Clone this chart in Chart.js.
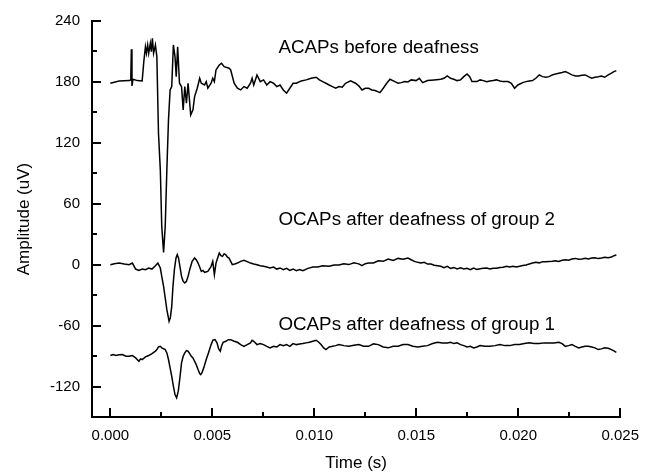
<!DOCTYPE html>
<html>
<head>
<meta charset="utf-8">
<script src="https://cdn.jsdelivr.net/npm/chart.js@4"></script>
<style>
  html, body { margin: 0; padding: 0; background: #fff; }
  #c { display: block; }
</style>
</head>
<body>
<canvas id="c" width="649" height="472"></canvas>
<script>
// ---- Data ----
const acapT = [0, .00043, .00092, .00100, .00103, .00106, .00111, .00132, .00156, .00164, .00172, .00177, .00183, .00188, .00196, .00201, .00206, .00212, .00221, .00228, .00236, .00245, .00252, .00261, .00269, .00277, .00285, .00293, .00301, .00309, .00317, .00323, .00330, .00339, .00349, .00357, .00365, .00373, .00381, .00394, .00405, .00413, .00426, .00438, .00446, .00462, .00470, .00478, .00494, .00502, .00510, .00518, .00534, .00545, .00558, .00582, .00590, .00607, .00623, .00639, .00655, .00671, .00687, .00695, .00703, .00719, .00735, .00751, .00767, .00783, .00800, .00816, .00832, .00848, .00864, .00880, .00896, .00912, .00936, .00960, .00985, .01009, .01025, .01041, .01057, .01073, .01089, .01105, .01121, .01137, .01153, .01178, .01202, .01218, .01234, .01250, .01266, .01282, .01298, .01322, .01338, .01355, .01371, .01395, .01411, .01427, .01443, .01459, .01475, .01499, .01515, .01531, .01555, .01588, .01620, .01636, .01652, .01668, .01684, .01700, .01717, .01733, .01749, .01762, .01773, .01797, .01813, .01829, .01845, .01861, .01877, .01893, .01910, .01926, .01950, .01966, .01982, .01998, .02022, .02038, .02054, .02070, .02086, .02103, .02119, .02135, .02151, .02167, .02183, .02199, .02215, .02231, .02247, .02263, .02280, .02296, .02312, .02328, .02344, .02360, .02376, .02392, .02408, .02424, .02441, .02457, .02469, .02481];
const acapV = [178.7, 181.0, 181.3, 182, 212.2, 176.1, 182.6, 181.3, 181.0, 200, 214.7, 208.2, 216.4, 208.2, 218, 209.8, 223, 208.2, 216.4, 204.9, 129.5, 93.4, 37.7, 12.1, 37.7, 93.4, 142.6, 172.1, 175.4, 216.4, 204.9, 185.2, 214.7, 178.7, 175.4, 152.5, 175.4, 159, 178.7, 147.5, 152.5, 165.5, 173.8, 183.6, 178.7, 177, 180.3, 173.8, 178.7, 183.6, 180.3, 191.8, 196.7, 198.4, 195.1, 193.5, 191.8, 178.7, 173.8, 172.1, 175.4, 173.8, 178.7, 183.6, 177, 186.9, 180.3, 182, 177, 180.3, 178.7, 175.4, 177, 172.1, 168.9, 173.8, 178.7, 178.7, 181, 182, 183.6, 184.6, 182, 180.3, 178.7, 177, 175.4, 173.8, 175.4, 174.8, 178.7, 181, 178.7, 176.1, 172.1, 173.8, 173.8, 172.1, 171.5, 169.5, 173.8, 178.7, 182.6, 180.3, 178.7, 179.3, 180.3, 180, 182, 181.3, 183.6, 179.3, 181.3, 182, 182.6, 183.6, 185.9, 183.6, 182.6, 181.3, 182, 185.2, 187.9, 185.2, 180.3, 180.3, 182, 181.3, 180.3, 181, 181.3, 182, 181, 180.3, 180.3, 178.7, 173.8, 177, 179.3, 180.3, 181, 181.3, 183.6, 186.9, 185.2, 184.6, 185.2, 186.9, 187.9, 188.6, 189.2, 190.2, 188.6, 186.9, 185.9, 185.9, 186.6, 186.9, 185.2, 183.6, 184.6, 185.2, 185.9, 184.6, 186.9, 188.6, 190.2, 191.1];

const g2T = [0, .00019, .00043, .00068, .00092, .00108, .00124, .00140, .00156, .00172, .00188, .00204, .00221, .00233, .00245, .00252, .00261, .00269, .00277, .00288, .00294, .00301, .00307, .00314, .00322, .00328, .00334, .00341, .00349, .00357, .00365, .00373, .00381, .00389, .00401, .00413, .00421, .00430, .00438, .00446, .00454, .00462, .00478, .00494, .00502, .00507, .00510, .00518, .00526, .00534, .00542, .00550, .00558, .00566, .00574, .00582, .00590, .00598, .00610, .00623, .00639, .00655, .00671, .00687, .00703, .00719, .00735, .00751, .00767, .00783, .00800, .00816, .00832, .00848, .00864, .00880, .00896, .00912, .00928, .00944, .00969, .00993, .01017, .01041, .01073, .01097, .01121, .01145, .01169, .01194, .01218, .01234, .01250, .01266, .01290, .01314, .01338, .01362, .01387, .01411, .01435, .01459, .01475, .01491, .01507, .01523, .01539, .01555, .01572, .01588, .01604, .01620, .01636, .01652, .01668, .01684, .01700, .01717, .01733, .01749, .01765, .01781, .01797, .01813, .01829, .01845, .01861, .01877, .01893, .01910, .01926, .01942, .01958, .01974, .01990, .02006, .02022, .02038, .02054, .02070, .02086, .02103, .02119, .02135, .02151, .02167, .02183, .02199, .02215, .02231, .02247, .02263, .02280, .02296, .02312, .02328, .02344, .02360, .02376, .02392, .02408, .02424, .02441, .02457, .02469, .02481];
const g2V = [0, 1, 1.6, 0.7, 0, 1.6, -4.3, -5.6, -4.3, -4.9, -3.3, -4.3, -1, 1.6, -3.3, -11.5, -21.3, -32.8, -44.3, -55.8, -52.4, -41, -21.3, -4.9, 6.6, 9.8, 6.6, -1.6, -11.5, -16.4, -18, -16.4, -11.5, -4.9, 3.3, 6.6, 4.9, 1.6, -2.3, -6.6, -5.6, -7.5, -6.6, -1.6, 3.3, -4.9, -9.8, 1.6, 6.6, 11.5, 8.9, 8.2, 10.8, 9.8, 7.5, 6.6, 3.3, 0, 0.7, 1.6, 3.3, 4.3, 3, 1.6, 0.7, 0, -1, -1.6, -2.3, -3.3, -2.4, -4.3, -3.2, -4.9, -3.6, -5.6, -4.2, -5.9, -4.8, -5.9, -3.6, -2.3, -2.2, -1.0, -1.6, -0.3, -0.4, 0.9, 0.1, 1.9, 0.8, -1, 1, 1.6, 1.7, 3.9, 3.3, 5.5, 4.2, 6.2, 5.4, 6.6, 4.9, 3.3, 2.3, 1.6, 2.3, 0.6, 0.7, -0.6, -1, -1.6, -2.9, -1.7, -3.6, -2.7, -4.2, -3.1, -4.3, -3.6, -4.9, -3.3, -4.6, -3.9, -3.6, -3.3, -4.3, -3.5, -3.6, -2.8, -2.6, -1.6, -2.3, -1.6, -2.2, -1.6, -0.7, -0.2, 0.7, 1.6, 2.3, 1.8, 3.0, 2.9, 3.2, 3.3, 3.9, 3.2, 4.3, 4.9, 4.4, 5.6, 6.2, 5.4, 5.6, 6.3, 5.6, 6.6, 6.9, 6.0, 6.6, 7.3, 6.9, 7.5, 8.9, 9.5];

const g1T = [0, .00014, .00027, .00043, .00059, .00076, .00092, .00108, .00124, .00140, .00148, .00156, .00172, .00188, .00204, .00221, .00228, .00236, .00245, .00252, .00269, .00277, .00285, .00293, .00301, .00309, .00317, .00325, .00333, .00341, .00349, .00357, .00365, .00373, .00381, .00389, .00397, .00405, .00413, .00421, .00430, .00438, .00443, .00449, .00458, .00470, .00481, .00494, .00503, .00513, .00523, .00531, .00539, .00545, .00553, .00566, .00578, .00590, .00607, .00623, .00639, .00655, .00671, .00687, .00695, .00703, .00719, .00735, .00751, .00767, .00783, .00800, .00816, .00832, .00848, .00864, .00880, .00896, .00912, .00928, .00944, .00960, .00976, .00993, .01009, .01022, .01033, .01046, .01057, .01073, .01089, .01105, .01121, .01145, .01169, .01194, .01218, .01242, .01266, .01290, .01314, .01338, .01362, .01387, .01411, .01435, .01459, .01483, .01507, .01531, .01555, .01580, .01604, .01628, .01652, .01668, .01684, .01700, .01717, .01733, .01749, .01765, .01781, .01797, .01813, .01837, .01861, .01886, .01910, .01934, .01958, .01982, .02006, .02030, .02054, .02078, .02103, .02127, .02151, .02175, .02199, .02215, .02231, .02247, .02263, .02280, .02296, .02312, .02328, .02344, .02360, .02376, .02392, .02408, .02424, .02441, .02457, .02469, .02481];
const g1V = [-89.5, -88.5, -89.5, -88.8, -88.5, -90.2, -90.2, -89.5, -91.8, -95.1, -92.8, -93.4, -90.8, -89.5, -87.5, -85.2, -83.6, -81, -80.4, -81.9, -83.6, -86.9, -93.4, -101.6, -109.9, -119.7, -127.9, -131.1, -124.6, -111.4, -96.7, -90.2, -86.9, -84.6, -85.2, -87.5, -90.2, -91.8, -95.1, -98.4, -103.3, -107.2, -108.2, -106.5, -101.6, -93.4, -86.9, -78.7, -74.4, -73.8, -77, -82.9, -85.2, -80.4, -76.4, -75.4, -73.8, -73.8, -75.4, -76.4, -78.7, -80.4, -78.7, -77, -74.4, -75.4, -78.7, -77.7, -78.7, -80.4, -81.9, -80.4, -81, -78.7, -79.7, -78.7, -80.4, -77.7, -78.7, -78, -77.7, -77, -76.4, -75.4, -74.4, -76.4, -78.7, -81.9, -83.6, -81, -80.4, -79.7, -78.7, -79.7, -80.4, -79.4, -78.7, -80.4, -80.4, -78, -78.7, -81, -81.9, -80.4, -80.4, -78.7, -78.7, -80.4, -81, -80.4, -79.7, -77.7, -76.4, -77, -77, -76.4, -77.7, -77, -78.7, -79.7, -81, -80.4, -81.9, -81, -79.7, -80.4, -80.4, -79.7, -78.7, -79.7, -79.7, -78.7, -78.7, -77.7, -77, -77.7, -77.7, -77, -77, -77, -76.4, -77.7, -80.4, -79.7, -78.7, -80.4, -81.9, -81, -80.4, -80.4, -81, -81.9, -83.6, -82.9, -81.9, -82.3, -83.6, -84.9, -86.3];

const xTicks = [0, 0.005, 0.010, 0.015, 0.020, 0.025];
const xMinor = [0.0025, 0.0075, 0.0125, 0.0175, 0.0225];
const yTicks = [-120, -60, 0, 60, 120, 180, 240];
const yMinor = [-90, -30, 30, 90, 150, 210];

const labelTexts = ['ACAPs before deafness', 'OCAPs after deafness of group 2', 'OCAPs after deafness of group 1'];
const labelT = [0.00824, 0.00824, 0.00824];
const labelV = [208.2, 38.9, -63.9];

// ---- Chart ----
const FONT = "'Liberation Sans', Arial, sans-serif";
const pts = (T, V) => T.map((t, i) => ({ x: t, y: V[i] }));
const ds = (T, V) => ({
  data: pts(T, V), showLine: true, borderColor: '#000', borderWidth: 1.5,
  pointRadius: 0, tension: 0, fill: false
});

const inTicks = {
  id: 'inTicks',
  afterDraw(chart) {
    const { ctx, chartArea: a, scales: { x, y } } = chart;
    ctx.save();
    ctx.strokeStyle = '#000';
    ctx.lineWidth = 2;
    ctx.beginPath();
    const vx = (v, len) => { const p = Math.round(x.getPixelForValue(v)); ctx.moveTo(p, a.bottom); ctx.lineTo(p, a.bottom - len); };
    const vy = (v, len) => { const p = Math.round(y.getPixelForValue(v)); ctx.moveTo(a.left, p); ctx.lineTo(a.left + len, p); };
    xTicks.forEach(v => vx(v, 9));
    xMinor.forEach(v => vx(v, 5));
    yTicks.forEach(v => vy(v, 9));
    yMinor.forEach(v => vy(v, 5));
    ctx.stroke();
    ctx.fillStyle = '#000';
    ctx.font = '18.8px ' + FONT;
    ctx.textBaseline = 'alphabetic';
    ctx.textAlign = 'left';
    labelTexts.forEach((s, i) => ctx.fillText(s, x.getPixelForValue(labelT[i]), y.getPixelForValue(labelV[i])));
    ctx.restore();
  }
};

new Chart(document.getElementById('c'), {
  type: 'scatter',
  data: { datasets: [ds(acapT, acapV), ds(g2T, g2V), ds(g1T, g1V)] },
  options: {
    responsive: false,
    animation: false,
    devicePixelRatio: 1,
    layout: { padding: { top: 21, right: 20, left: 0, bottom: 0 } },
    plugins: { legend: { display: false }, tooltip: { enabled: false } },
    scales: {
      x: {
        type: 'linear', min: -0.0009, max: 0.025,
        afterBuildTicks: s => { s.ticks = xTicks.map(v => ({ value: v })); },
        afterFit: s => { s.height = 55; },
        grid: { display: false, drawTicks: false },
        border: { display: true, color: '#000', width: 2 },
        ticks: { color: '#000', font: { family: FONT, size: 15 }, padding: 10, maxRotation: 0, autoSkip: false,
                 callback: v => Number(v).toFixed(3) },
        title: { display: true, text: 'Time (s)', color: '#000', font: { family: FONT, size: 17, lineHeight: 1 }, padding: { top: 0, bottom: 0.5 } }
      },
      y: {
        type: 'linear', min: -150, max: 240,
        afterBuildTicks: s => { s.ticks = yTicks.map(v => ({ value: v })); },
        afterFit: s => { s.width = 92; },
        grid: { display: false, drawTicks: false },
        border: { display: true, color: '#000', width: 2 },
        ticks: { color: '#000', font: { family: FONT, size: 15 }, padding: 12, autoSkip: false },
        title: { display: true, text: 'Amplitude (uV)', color: '#000', font: { family: FONT, size: 17, lineHeight: 1 }, padding: { top: 15.5, bottom: 0 } }
      }
    }
  },
  plugins: [inTicks]
});
</script>
</body>
</html>
